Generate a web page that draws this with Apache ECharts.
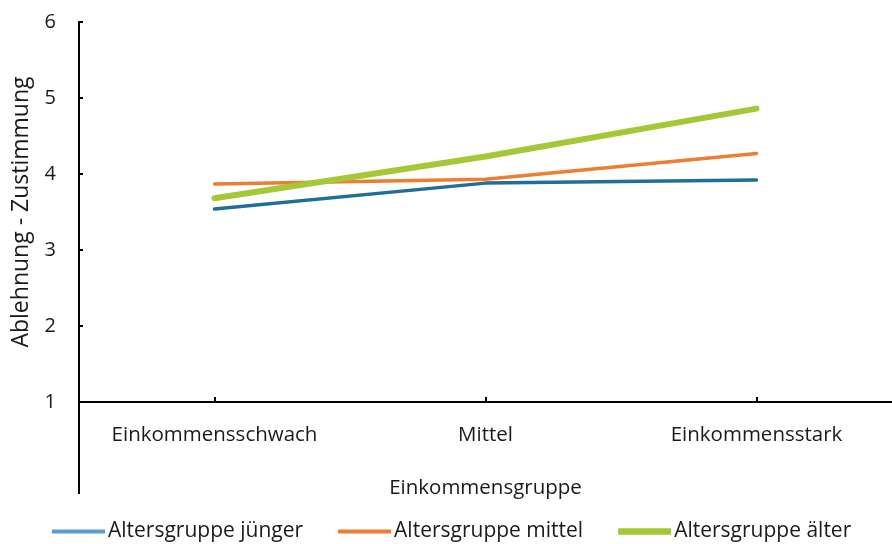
<!DOCTYPE html>
<html>
<head>
<meta charset="utf-8">
<script src="https://cdn.jsdelivr.net/npm/echarts@6/dist/echarts.min.js"></script>
<style>
  html, body { margin: 0; padding: 0; background: #ffffff; }
  #chart { width: 892px; height: 544px; }
</style>
</head>
<body>
<div id="chart"></div>
<script>
// Einkommensgruppen (x-axis categories)
const categories = ['Einkommensschwach', 'Mittel', 'Einkommensstark'];

// Mean rating per age group
const juenger = [3.54, 3.88, 3.92];
const mittel  = [3.87, 3.93, 4.27];
const aelter  = [3.68, 4.23, 4.86];

const seriesNames = ['Altersgruppe jünger', 'Altersgruppe mittel', 'Altersgruppe älter'];
const yTicks = [1, 2, 3, 4, 5, 6];

const FONT = '"Open Sans", sans-serif';
const TXT = '#1a1a1a';

// thin bar-shaped legend keys
const thinKey = 'path://M0,0 H53 V4 H0 Z';
const thickKey = 'path://M0,0 H53 V6.5 H0 Z';

const chart = echarts.init(document.getElementById('chart'), null, { renderer: 'canvas' });

chart.setOption({
  backgroundColor: '#ffffff',
  animation: false,
  textStyle: { fontFamily: FONT },
  grid: { left: 79, top: 22, width: 818, height: 380, containLabel: false },
  legend: {
    orient: 'horizontal',
    top: 521,
    left: 52,
    padding: 0,
    itemGap: 35,
    itemWidth: 53,
    itemHeight: 10,
    textStyle: { fontFamily: FONT, fontSize: 21, color: TXT, padding: [0, 0, 0, -2] },
    data: [
      { name: seriesNames[0], icon: thinKey, itemStyle: { color: '#5B9BD5' } },
      { name: seriesNames[1], icon: thinKey, itemStyle: { color: '#ED7D31' } },
      { name: seriesNames[2], icon: thickKey, itemStyle: { color: '#A5C936' } }
    ]
  },
  xAxis: {
    type: 'category',
    data: categories,
    boundaryGap: true,
    name: 'Einkommensgruppe',
    nameLocation: 'middle',
    nameGap: 76,
    nameTextStyle: { fontFamily: FONT, fontSize: 20.5, color: TXT },
    axisLine: { show: true, lineStyle: { color: '#000', width: 2 } },
    axisTick: { show: true, inside: true, alignWithLabel: true, length: 5, lineStyle: { color: '#000', width: 2 } },
    axisLabel: { fontFamily: FONT, fontSize: 20.5, color: TXT, margin: 23 },
    splitLine: { show: false }
  },
  yAxis: {
    type: 'value',
    min: yTicks[0],
    max: yTicks[yTicks.length - 1],
    interval: 1,
    name: 'Ablehnung - Zustimmung',
    nameLocation: 'middle',
    nameGap: 46,
    nameRotate: 90,
    nameTextStyle: { fontFamily: FONT, fontSize: 23, color: TXT },
    axisLine: { show: true, lineStyle: { color: '#000', width: 2 } },
    axisTick: { show: true, inside: true, length: 4, lineStyle: { color: '#000', width: 2 } },
    axisLabel: { fontFamily: FONT, fontSize: 20, color: TXT, margin: 23 },
    splitLine: { show: false }
  },
  graphic: [
    // y-axis line continues below the category axis
    {
      type: 'line',
      shape: { x1: 79, y1: 402, x2: 79, y2: 494 },
      style: { stroke: '#000', lineWidth: 2 }
    }
  ],
  series: [
    {
      name: seriesNames[0], type: 'line', data: juenger,
      symbol: 'none', smooth: false,
      lineStyle: { color: '#1F6F96', width: 3.5, cap: 'round' },
      itemStyle: { color: '#1F6F96' }
    },
    {
      name: seriesNames[1], type: 'line', data: mittel,
      symbol: 'none', smooth: false,
      lineStyle: { color: '#ED7D31', width: 3.5, cap: 'round' },
      itemStyle: { color: '#ED7D31' }
    },
    {
      name: seriesNames[2], type: 'line', data: aelter,
      symbol: 'none', smooth: false,
      lineStyle: { color: '#A5C936', width: 6, cap: 'round' },
      itemStyle: { color: '#A5C936' }
    }
  ]
});
</script>
</body>
</html>
